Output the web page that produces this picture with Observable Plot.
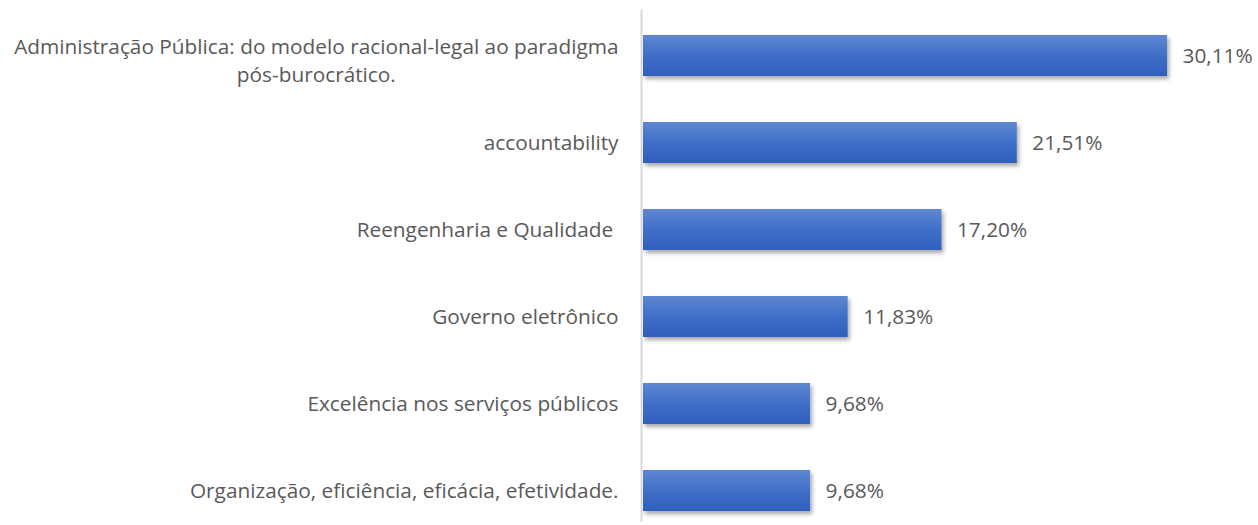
<!DOCTYPE html>
<html>
<head>
<meta charset="utf-8">
<script src="https://cdn.jsdelivr.net/npm/d3@7"></script>
<script src="https://cdn.jsdelivr.net/npm/@observablehq/plot@0.6"></script>
<style>
  html, body { margin: 0; padding: 0; background: #fff; }
  #chart svg { display: block; }
</style>
</head>
<body>
<div id="chart"></div>
<script>
const categories = [
  "Administração Pública: do modelo racional-legal ao paradigma\npós-burocrático.",
  "accountability",
  "Reengenharia e Qualidade\u00A0",
  "Governo eletrônico",
  "Excelência nos serviços públicos",
  "Organização, eficiência, eficácia, efetividade."
];
const values = [30.11, 21.51, 17.20, 11.83, 9.68, 9.68];
const valueLabels = ["30,11%", "21,51%", "17,20%", "11,83%", "9,68%", "9,68%"];

const data = categories.map((c, i) => ({category: c, value: values[i], label: valueLabels[i]}));

const fontFamily = "Open Sans";
const fontSize = 20.8;
const labelColor = "#595959";
const labelGap = 23;

// measure the widest line of wrapped labels so they are centred within a right-aligned box
const ctx = document.createElement("canvas").getContext("2d");
ctx.font = `${fontSize}px "${fontFamily}"`;
const single = data.filter(d => !d.category.includes("\n"));
const multi = data.filter(d => d.category.includes("\n"));
multi.forEach(d => {
  d.boxWidth = d3.max(d.category.split("\n"), s => ctx.measureText(s).width);
});

const plot = Plot.plot({
  width: 1258,
  height: 525,
  marginLeft: 641,
  marginRight: 91,
  marginTop: 10,
  marginBottom: 3,
  style: {fontFamily: `"${fontFamily}", sans-serif`, background: "#fff"},
  x: {domain: [0, 30.11], range: [641, 1167], axis: null},
  y: {domain: categories, range: [12, 534], paddingInner: 0.529, paddingOuter: 0.2645, axis: null},
  marks: [
    Plot.barX(data, {
      x: "value", y: "category", insetLeft: 2,
      fill: "url(#barGrad)"
    }),
    Plot.ruleX([0], {stroke: "#d9d9d9", strokeWidth: 2}),
    Plot.text(data, {
      x: "value", y: "category", text: "label",
      textAnchor: "start", dx: 15, fontSize, fill: labelColor
    }),
    Plot.text(single, {
      x: 0, y: "category", text: "category",
      textAnchor: "end", dx: -labelGap, fontSize, fill: labelColor
    }),
    ...multi.map(d => Plot.text([d], {
      x: 0, y: "category", text: "category",
      textAnchor: "middle", dx: -labelGap - d.boxWidth / 2, dy: 3,
      lineHeight: 1.37, fontSize, fill: labelColor
    }))
  ]
});

const svg = d3.select(plot);
const defs = svg.insert("defs", ":first-child");
const g = defs.append("linearGradient").attr("id", "barGrad")
  .attr("x1", 0).attr("y1", 0).attr("x2", 0).attr("y2", 1);
g.append("stop").attr("offset", "0%").attr("stop-color", "#5f87d1");
g.append("stop").attr("offset", "50%").attr("stop-color", "#3f6fc8");
g.append("stop").attr("offset", "100%").attr("stop-color", "#2f5fbd");
const f = defs.append("filter").attr("id", "shadow")
  .attr("x", "-5%").attr("y", "-20%").attr("width", "115%").attr("height", "160%");
f.append("feDropShadow").attr("dx", 2).attr("dy", 3).attr("stdDeviation", 2)
  .attr("flood-color", "#000").attr("flood-opacity", 0.35);
svg.selectAll("rect").attr("filter", "url(#shadow)");

document.getElementById("chart").appendChild(plot);
</script>
</body>
</html>
